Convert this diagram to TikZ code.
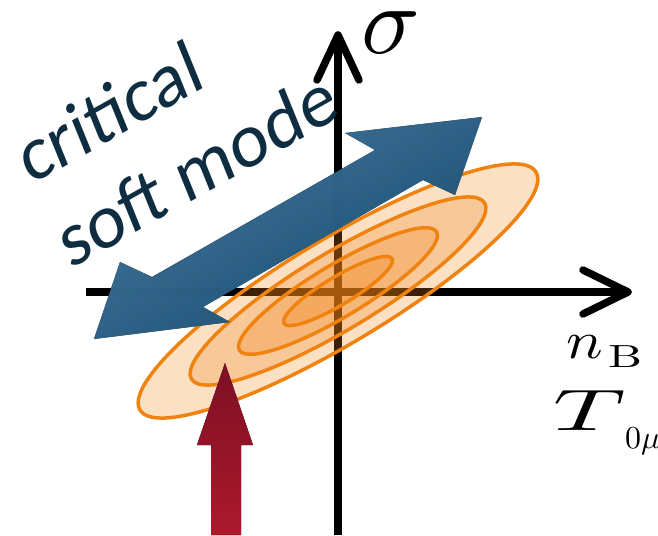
\documentclass[tikz,border=0pt]{standalone}
\usepackage{fontspec}
\newfontfamily\calfont{Carlito}
\usetikzlibrary{calc}
\definecolor{navytext}{RGB}{15,45,65}
\definecolor{ellorange}{RGB}{240,130,15}
\definecolor{ellfill}{RGB}{240,130,20}
\definecolor{bluelight}{RGB}{75,130,170}
\definecolor{bluedark}{RGB}{22,82,122}
\definecolor{redtop}{RGB}{125,15,35}
\definecolor{redbot}{RGB}{172,25,45}
\tikzset{
  axisline/.style={line width=7.5pt, draw=black},
  axishead/.style={line width=7.5pt, draw=black, line cap=round, line join=round},
  contour/.style={fill=ellfill, fill opacity=0.25, draw=ellorange, line width=3.5pt},
  bluearrow/.style={top color=bluelight, bottom color=bluedark, shading angle=30, fill opacity=0.9},
  redarrow/.style={top color=redtop, bottom color=redbot},
  softtext/.style={font=\calfont\fontsize{76}{76}\selectfont, text=navytext, inner sep=0pt, rotate=29.5, xslant=0.13, anchor=base west},
  mathlabel/.style={inner sep=0pt, anchor=base west}
}
\begin{document}
\begin{tikzpicture}[x=1pt,y=-1pt]
\useasboundingbox (0,0) rectangle (658,535);
% axes
\coordinate (vbot) at (338,535);
\coordinate (vtop) at (338,35);
\coordinate (hleft) at (86,292);
\coordinate (hright) at (628,292);
\draw[axisline] (vbot) -- ($(vtop)+(0,4)$);
\draw[axishead] ($(vtop)+(-21,45)$) -- (vtop) -- ($(vtop)+(21,45)$);
\draw[axisline] (hleft) -- ($(hright)+(-4,0)$);
\draw[axishead] ($(hright)+(-45,-22)$) -- (hright) -- ($(hright)+(-45,22)$);
% contours
\coordinate (ec) at (338,291);
\foreach \ra/\rb in {231/52, 171/38.5, 115/26, 63/14}{
  \filldraw[contour, rotate around={31:(ec)}] (ec) ellipse [x radius=\ra pt, y radius=\rb pt];
}
% blue double arrow
\fill[bluearrow] (94,339) -- (120,262) -- (152,277) -- (375,150) -- (345,133)
  -- (482,117) -- (455,195) -- (423,180) -- (203,307) -- (230,322) -- cycle;
% red arrow
\fill[redarrow] (225,363) -- (253,445) -- (241,445) -- (241,535) -- (211,535)
  -- (211,445) -- (197,445) -- cycle;
% texts
\node[softtext] (crit) at (30,186) {critical};
\node[softtext] (soft) at (70,270) {soft mode};
\node[mathlabel] (sig) at (361,54) {\scalebox{9.7}{$\sigma$}};
\node[mathlabel] (nb) at (566,358) {\rlap{\scalebox{6.1}[5.3]{$n$}}\hspace{42pt}\raisebox{-9pt}{\scalebox{4.8}[3.2]{B}}};
\node[mathlabel] (tmu) at (553,430) {\rlap{\scalebox{10}[5.85]{$T$}}\hspace{72pt}\raisebox{-18pt}{\scalebox{3.2}{$0\mu$}}};
\end{tikzpicture}
\end{document}
